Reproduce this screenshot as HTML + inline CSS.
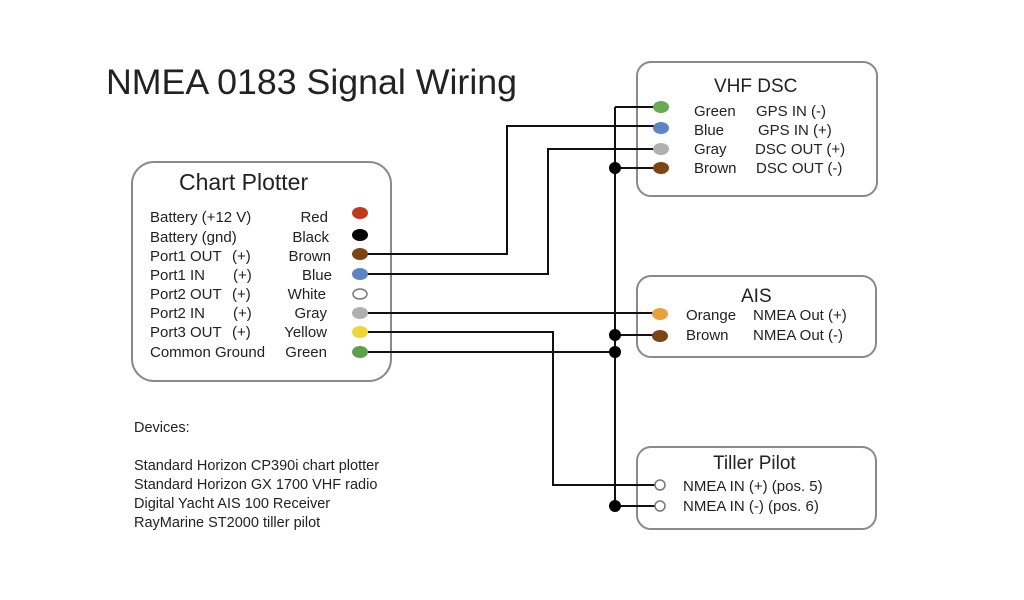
<!DOCTYPE html>
<html><head><meta charset="utf-8"><style>body{margin:0;background:#fff}svg{display:block}</style></head>
<body>
<svg width="1024" height="600" viewBox="0 0 1024 600" font-family="Liberation Sans, sans-serif" fill="#222">
<rect width="1024" height="600" fill="#fff"/>
<text x="106" y="94" font-size="35" textLength="411" lengthAdjust="spacingAndGlyphs">NMEA 0183 Signal Wiring</text>
<g fill="none" stroke="#8a8a8a" stroke-width="2">
<rect x="132" y="162" width="259" height="219" rx="22"/>
<rect x="637" y="62" width="240" height="134" rx="14"/>
<rect x="637" y="276" width="239" height="81" rx="14"/>
<rect x="637" y="447" width="239" height="82" rx="14"/>
</g>
<g fill="none" stroke="#111" stroke-width="2">
<path d="M615 107H660M615 107V506H660"/>
<path d="M357 254H507V126H660"/>
<path d="M357 274H548V149H660"/>
<path d="M615 168H660"/>
<path d="M357 313H660"/>
<path d="M357 332H553V485H660"/>
<path d="M357 352H615"/>
<path d="M615 335H660"/>
</g>
<g fill="#000">
<circle cx="615" cy="168" r="6"/><circle cx="615" cy="335" r="6"/><circle cx="615" cy="352" r="6"/><circle cx="615" cy="506" r="6"/>
</g>
<g>
<ellipse cx="360" cy="213" rx="8" ry="6" fill="#c0391e"/>
<ellipse cx="360" cy="235" rx="8" ry="6" fill="#000"/>
<ellipse cx="360" cy="254" rx="8" ry="6" fill="#7b4514"/>
<ellipse cx="360" cy="274" rx="8" ry="6" fill="#5b85c3"/>
<ellipse cx="360" cy="294" rx="7" ry="5" fill="#fff" stroke="#777" stroke-width="1.5"/>
<ellipse cx="360" cy="313" rx="8" ry="6" fill="#b0b0b0"/>
<ellipse cx="360" cy="332" rx="8" ry="6" fill="#eed63a"/>
<ellipse cx="360" cy="352" rx="8" ry="6" fill="#5f9e4a"/>
<ellipse cx="661" cy="107" rx="8" ry="6" fill="#6aab52"/>
<ellipse cx="661" cy="128" rx="8" ry="6" fill="#5b85c3"/>
<ellipse cx="661" cy="149" rx="8" ry="6" fill="#b0b0b0"/>
<ellipse cx="661" cy="168" rx="8" ry="6" fill="#7b4514"/>
<ellipse cx="660" cy="314" rx="8" ry="6" fill="#e8a23c"/>
<ellipse cx="660" cy="336" rx="8" ry="6" fill="#7b4514"/>
<circle cx="660" cy="485" r="5" fill="#fff" stroke="#777" stroke-width="1.5"/>
<circle cx="660" cy="506" r="5" fill="#fff" stroke="#777" stroke-width="1.5"/>
</g>
<text x="179" y="190" font-size="23">Chart Plotter</text>
<g font-size="15">
<text x="150" y="222">Battery (+12 V)</text><text x="150" y="242">Battery (gnd)</text>
<text x="150" y="261">Port1 OUT</text><text x="150" y="280">Port1 IN</text>
<text x="150" y="299">Port2 OUT</text><text x="150" y="318">Port2 IN</text>
<text x="150" y="337">Port3 OUT</text><text x="150" y="357">Common Ground</text>
<text x="232" y="261">(+)</text><text x="233" y="280">(+)</text><text x="232" y="299">(+)</text>
<text x="233" y="318">(+)</text><text x="232" y="337">(+)</text>
</g>
<g font-size="15" text-anchor="end">
<text x="328" y="222">Red</text><text x="329" y="242">Black</text><text x="331" y="261">Brown</text>
<text x="332" y="280">Blue</text><text x="326" y="299">White</text><text x="327" y="318">Gray</text>
<text x="327" y="337">Yellow</text><text x="327" y="357">Green</text>
</g>
<text x="714" y="92" font-size="19">VHF DSC</text>
<g font-size="15">
<text x="694" y="116">Green</text><text x="694" y="135">Blue</text><text x="694" y="154">Gray</text><text x="694" y="173">Brown</text>
<text x="756" y="116">GPS IN (-)</text><text x="758" y="135">GPS IN (+)</text><text x="755" y="154">DSC OUT (+)</text><text x="756" y="173">DSC OUT (-)</text>
</g>
<text x="741" y="302" font-size="19">AIS</text>
<g font-size="15">
<text x="686" y="320">Orange</text><text x="753" y="320">NMEA Out (+)</text>
<text x="686" y="340">Brown</text><text x="753" y="340">NMEA Out (-)</text>
</g>
<text x="713" y="469" font-size="19">Tiller Pilot</text>
<g font-size="15">
<text x="683" y="491">NMEA IN (+) (pos. 5)</text>
<text x="683" y="511">NMEA IN (-) (pos. 6)</text>
</g>
<g font-size="14.5">
<text x="134" y="432">Devices:</text>
<text x="134" y="470">Standard Horizon CP390i chart plotter</text>
<text x="134" y="489">Standard Horizon GX 1700 VHF radio</text>
<text x="134" y="508">Digital Yacht AIS 100 Receiver</text>
<text x="134" y="527">RayMarine ST2000 tiller pilot</text>
</g>
</svg>
</body></html>
